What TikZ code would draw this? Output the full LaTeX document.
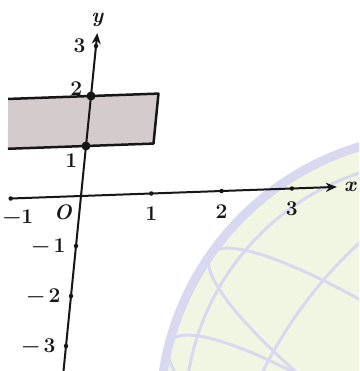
\documentclass[tikz,border=0pt]{standalone}
\usepackage{fontspec}
\usetikzlibrary{positioning, arrows.meta}
\definecolor{coloredge}{HTML}{161616}
\definecolor{colorshade}{HTML}{D3CBCC}
\definecolor{colorglobe}{HTML}{F0F6E2}
\definecolor{colorgrid}{HTML}{D8D9F0}

\begin{document}
\begin{tikzpicture}[
    % one unit = one pixel of the scan, y running downwards
    x=1pt, y=-1pt,
    % the slightly tilted coordinate plane of the photo
    plane/.style={shift={(81,196)}, x={(70.3pt,2.5pt)}, y={(5pt,50pt)}},
    axis/.style={
        draw=coloredge,
        line width=2pt,
        -{Stealth[length=11pt, width=9pt, inset=3.5pt]}
    },
    region/.style={
        fill=colorshade,
        draw=coloredge,
        line width=2.5pt,
        line join=round
    },
    bigdot/.style={circle, fill=coloredge, inner sep=0pt, minimum size=9pt},
    tickdot/.style={circle, fill=coloredge, inner sep=0pt, minimum size=4.5pt},
    lbl/.style={font=\fontsize{21}{23}\selectfont\bfseries, text=coloredge, inner sep=0pt},
    gridline/.style={draw=colorgrid, line width=3pt}
]
\useasboundingbox (0,0) rectangle (359,371);

% ==============================
% Faint globe in the background
% ==============================
\begin{scope}
    \clip (0,0) rectangle (359,371);
    \coordinate (globe) at (440,415);
    \fill[colorglobe] (globe) circle (280);
    \begin{scope}
        \clip (globe) circle (276);
        \begin{scope}[rotate around={-35:(globe)}]
            \foreach \a in {85,175}
                \draw[gridline] (globe) ellipse ({\a} and 280);
            \foreach \h in {-190,-95,0}
                \draw[gridline] ([yshift=\h pt]globe) ellipse ({280*sqrt(1-(\h/280)^2)} and 55);
        \end{scope}
        \draw[gridline] (globe) circle (255);
    \end{scope}
    \draw[colorgrid, line width=9pt] (globe) circle (280);
\end{scope}

% ==============================
% Plane: shaded strip, axes, ticks
% ==============================
\begin{scope}[plane]
    \coordinate (O) at (0,0);
    \coordinate (xmax) at (3.64,0);
    \coordinate (ymin) at (0,-3.5);
    \coordinate (ymax) at (0,3.26);

    % strip 1 <= y <= 2, cut off by the left edge of the scan
    \path[region] (-1.18,2) -- (0.96,2) -- (0.96,1) -- (-1.11,1);

    \node[tickdot] (txm) at (-1,0) {};
    \draw[axis] (txm.center) -- (xmax);
    \draw[axis] (ymin) -- (ymax);

    \foreach \i in {1,2,3}
        \node[tickdot] (tx\i) at (\i,0) {};
    \foreach \i in {1,2,3}
        \node[tickdot] (tym\i) at (0,-\i) {};
    \node[tickdot] (ty3) at (0,3) {};

    \node[bigdot] (p1) at (0,1) {};
    \node[bigdot] (p2) at (0,2) {};
\end{scope}

% ==============================
% Labels
% ==============================
\node[lbl, right=7pt of xmax] (lx) {\itshape x};
\node[lbl, above=6pt of ymax] (ly) {\itshape y};
\node[lbl, below left=9pt and 9pt of O] (lO) {\itshape O};

\foreach \i in {1,2,3}
    \node[lbl, below=11pt of tx\i] (lx\i) {\i};
\node[lbl, anchor=north west] (lxm) at ([xshift=-8pt, yshift=-9pt]txm.south) {−1};

\node[lbl, left=8pt of ty3] (ly3) {3};
\foreach \i in {1,2,3}
    \node[lbl, left=8pt of tym\i] (lym\i) {−\,\i};

\node[lbl, left=4pt of p2, yshift=7pt] (lp2) {2};
\node[lbl, left=4pt of p1, yshift=-15pt] (lp1) {1};

\end{tikzpicture}
\end{document}
